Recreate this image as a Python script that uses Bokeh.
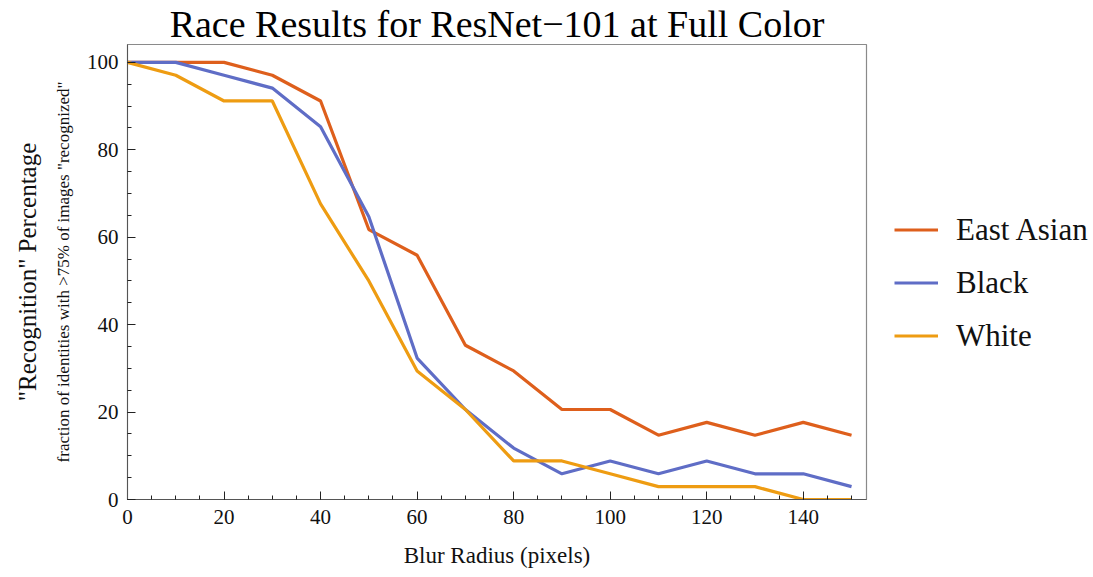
from bokeh.plotting import figure
from bokeh.models import (Range1d, LinearAxis, FixedTicker, Legend, LegendItem)
from bokeh.embed import file_html
from bokeh.resources import INLINE

# Blur radius (pixels)
blur_radius = [0, 10, 20, 30, 40, 50, 60, 70, 80, 90, 100, 110, 120, 130, 140, 150]

# Recognition percentage per group
east_asian = [100, 100, 100, 97.06, 91.18, 61.76, 55.88, 35.29, 29.41, 20.59,
              20.59, 14.71, 17.65, 14.71, 17.65, 14.71]
black = [100, 100, 97.06, 94.12, 85.29, 64.71, 32.35, 20.59, 11.76, 5.88,
         8.82, 5.88, 8.82, 5.88, 5.88, 2.94]
white = [100, 97.06, 91.18, 91.18, 67.65, 50.0, 29.41, 20.59, 8.82, 8.82,
         5.88, 2.94, 2.94, 2.94, 0, 0]

series_names = ["East Asian", "Black", "White"]
series_colors = ["#DE5F1C", "#5F6DC6", "#EE9C12"]

x_ticks = [0, 20, 40, 60, 80, 100, 120, 140]
y_ticks = [0, 20, 40, 60, 80, 100]

FONT = "Liberation Serif"

p = figure(
    width=1093, height=577,
    frame_width=739, frame_height=455,
    x_range=Range1d(0, 153.1), y_range=Range1d(0, 104.1),
    output_backend="svg", toolbar_location=None,
    min_border_left=127, min_border_right=0, min_border_top=42, min_border_bottom=78,
)

p.title.text = "Race Results for ResNet\u2212101 at Full Color"
p.title.text_font = FONT
p.title.text_font_style = "normal"
p.title.text_font_size = "38px"
p.title.align = "center"
p.title.text_color = "#000000"
p.title.standoff = 0
p.title.offset = 0

p.grid.visible = False
p.outline_line_color = "#8a8a8a"
p.outline_line_width = 1.2
p.background_fill_color = "white"
p.border_fill_color = "white"

for ax in (p.xaxis[0], p.yaxis[0]):
    ax.axis_line_color = "#555555"
    ax.major_tick_line_color = "#222222"
    ax.minor_tick_line_color = "#222222"
    ax.major_tick_in = 8
    ax.major_tick_out = 0
    ax.minor_tick_in = 4
    ax.minor_tick_out = 0
    ax.major_label_text_font = FONT
    ax.major_label_text_font_size = "21px"
    ax.major_label_text_color = "#111111"
    ax.axis_label_text_font = FONT
    ax.axis_label_text_font_style = "normal"
    ax.axis_label_text_color = "#111111"

p.xaxis[0].ticker = FixedTicker(ticks=x_ticks, minor_ticks=list(range(0, 155, 5)))
p.xaxis[0].axis_label = "Blur Radius (pixels)"
p.xaxis[0].axis_label_text_font_size = "23px"
p.xaxis[0].axis_label_standoff = 16
p.xaxis[0].major_label_standoff = 10

p.yaxis[0].ticker = FixedTicker(ticks=y_ticks, minor_ticks=list(range(0, 105, 5)))
p.yaxis[0].axis_label = "fraction of identities with >75% of images \"recognized\""
p.yaxis[0].axis_label_text_font_size = "17px"
p.yaxis[0].axis_label_standoff = 11
p.yaxis[0].major_label_standoff = 9

outer = LinearAxis(ticker=FixedTicker(ticks=[]), axis_line_color=None,
                   major_tick_line_color=None, minor_tick_line_color=None,
                   major_tick_out=0, major_tick_in=0, major_label_standoff=0,
                   axis_label="\"Recognition\" Percentage",
                   axis_label_text_font=FONT, axis_label_text_font_style="normal",
                   axis_label_text_font_size="25px", axis_label_text_color="#111111",
                   axis_label_standoff=10)
p.add_layout(outer, "left")

items = []
for name, ys, col in zip(series_names, [east_asian, black, white], series_colors):
    r = p.line(blur_radius, ys, line_color=col, line_width=3.2)
    items.append(LegendItem(label=name, renderers=[r]))

legend = Legend(items=items, location=(28, 145), orientation="vertical",
                label_text_font=FONT, label_text_font_size="31px",
                label_text_color="#111111",
                glyph_width=44, glyph_height=37, label_standoff=18, spacing=16,
                border_line_color=None, background_fill_alpha=0,
                padding=4, margin=0)
p.add_layout(legend, "right")

open("out.html", "w").write(file_html(p, INLINE))
